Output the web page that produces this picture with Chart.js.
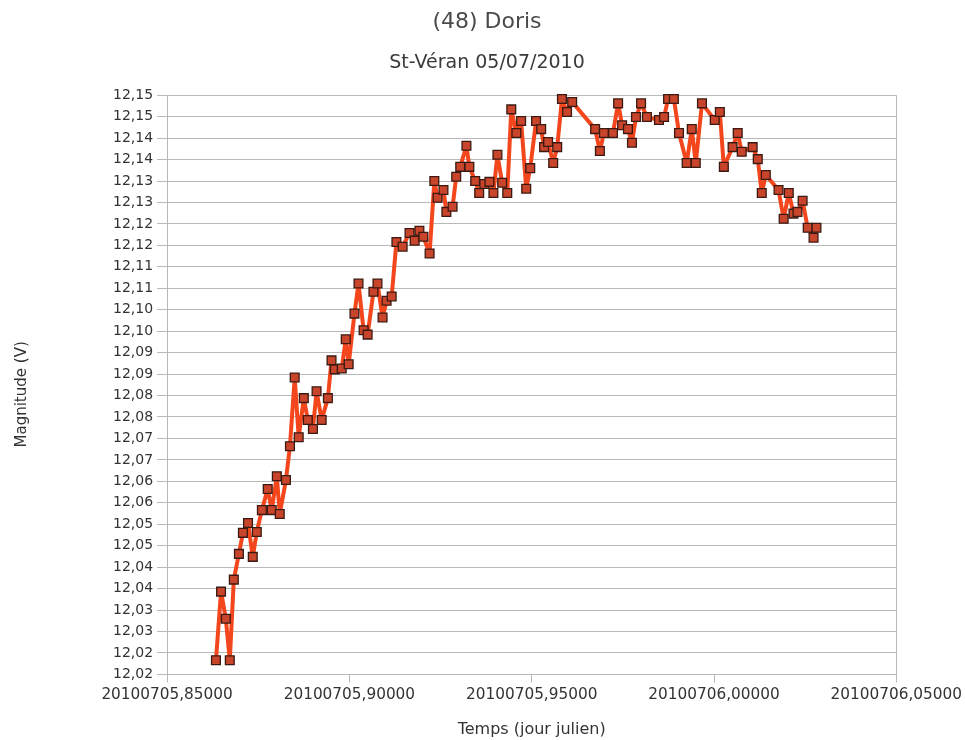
<!DOCTYPE html>
<html lang="fr">
<head>
<meta charset="utf-8">
<title>(48) Doris</title>
<script src="https://cdn.jsdelivr.net/npm/chart.js@4/dist/chart.umd.min.js"></script>
<style>
  html, body { margin: 0; padding: 0; background: #fff; }
  #wrap { width: 965px; height: 740px; }
</style>
</head>
<body>
<div id="wrap"><canvas id="doris" width="965" height="740"></canvas></div>
<script>
// Temps (jour julien) de chaque mesure
const temps = [
  20100705.8634, 20100705.8648, 20100705.8661, 20100705.8672, 20100705.8683,
  20100705.8697, 20100705.8708, 20100705.8722, 20100705.8735, 20100705.8746,
  20100705.8760, 20100705.8776, 20100705.8787, 20100705.8801, 20100705.8809,
  20100705.8826, 20100705.8837, 20100705.8850, 20100705.8861, 20100705.8875,
  20100705.8886, 20100705.8900, 20100705.8910, 20100705.8924, 20100705.8941,
  20100705.8951, 20100705.8960, 20100705.8979, 20100705.8990, 20100705.8998,
  20100705.9014, 20100705.9025, 20100705.9039, 20100705.9050, 20100705.9066,
  20100705.9077, 20100705.9091, 20100705.9102, 20100705.9116, 20100705.9129,
  20100705.9146, 20100705.9165, 20100705.9179, 20100705.9192, 20100705.9203,
  20100705.9220, 20100705.9233, 20100705.9242, 20100705.9258, 20100705.9266,
  20100705.9283, 20100705.9293, 20100705.9304, 20100705.9321, 20100705.9329,
  20100705.9345, 20100705.9356, 20100705.9370, 20100705.9384, 20100705.9395,
  20100705.9406, 20100705.9419, 20100705.9433, 20100705.9444, 20100705.9458,
  20100705.9471, 20100705.9485, 20100705.9496, 20100705.9512, 20100705.9526,
  20100705.9534, 20100705.9545, 20100705.9559, 20100705.9570, 20100705.9583,
  20100705.9597, 20100705.9611, 20100705.9674, 20100705.9687, 20100705.9698,
  20100705.9723, 20100705.9737, 20100705.9748, 20100705.9764, 20100705.9775,
  20100705.9786, 20100705.9800, 20100705.9816, 20100705.9849, 20100705.9863,
  20100705.9874, 20100705.9890, 20100705.9904, 20100705.9925, 20100705.9939,
  20100705.9950, 20100705.9967, 20100706.0002, 20100706.0016, 20100706.0027,
  20100706.0051, 20100706.0065, 20100706.0076, 20100706.0106, 20100706.0120,
  20100706.0131, 20100706.0142, 20100706.0177, 20100706.0191, 20100706.0205,
  20100706.0218, 20100706.0229, 20100706.0243, 20100706.0257, 20100706.0273,
  20100706.0281
];

// Magnitude V mesuree
const magnitudes = [
  12.0208, 12.0368, 12.0305, 12.0208, 12.0396,
  12.0456, 12.0505, 12.0528, 12.0449, 12.0507,
  12.0558, 12.0607, 12.0558, 12.0637, 12.0549,
  12.0628, 12.0707, 12.0867, 12.0728, 12.0819,
  12.0768, 12.0747, 12.0835, 12.0768, 12.0819,
  12.0907, 12.0886, 12.0888, 12.0956, 12.0898,
  12.1016, 12.1086, 12.0977, 12.0967, 12.1067,
  12.1086, 12.1007, 12.1046, 12.1056, 12.1183,
  12.1172, 12.1204, 12.1186, 12.1209, 12.1195,
  12.1156, 12.1325, 12.1286, 12.1304, 12.1253,
  12.1265, 12.1335, 12.1358, 12.1407, 12.1358,
  12.1325, 12.1297, 12.1318, 12.1323, 12.1297,
  12.1386, 12.1321, 12.1297, 12.1492, 12.1437,
  12.1465, 12.1307, 12.1355, 12.1465, 12.1446,
  12.1404, 12.1416, 12.1367, 12.1404, 12.1516,
  12.1486, 12.1509, 12.1446, 12.1395, 12.1437,
  12.1437, 12.1506, 12.1455, 12.1446, 12.1414,
  12.1474, 12.1506, 12.1474, 12.1467, 12.1474,
  12.1516, 12.1516, 12.1437, 12.1367, 12.1446,
  12.1367, 12.1506, 12.1467, 12.1486, 12.1358,
  12.1404, 12.1437, 12.1393, 12.1404, 12.1376,
  12.1297, 12.1339, 12.1304, 12.1237, 12.1297,
  12.1249, 12.1253, 12.1279, 12.1216, 12.1193,
  12.1216
];

// Graduations des axes
const xTickValues = [20100705.85, 20100705.90, 20100705.95, 20100706.00, 20100706.05];
const xTickLabels = ["20100705,85000", "20100705,90000", "20100705,95000", "20100706,00000", "20100706,05000"];

const yTickValues = [
  12.0175, 12.0225, 12.0275, 12.0325, 12.0375, 12.0425, 12.0475,
  12.0525, 12.0575, 12.0625, 12.0675, 12.0725, 12.0775, 12.0825,
  12.0875, 12.0925, 12.0975, 12.1025, 12.1075, 12.1125, 12.1175,
  12.1225, 12.1275, 12.1325, 12.1375, 12.1425, 12.1475, 12.1525
];
const yTickLabels = [
  "12,02", "12,02", "12,03", "12,03", "12,04", "12,04", "12,05",
  "12,05", "12,06", "12,06", "12,07", "12,07", "12,08", "12,08",
  "12,09", "12,09", "12,10", "12,10", "12,11", "12,11", "12,12",
  "12,12", "12,13", "12,13", "12,14", "12,14", "12,15", "12,15"
];

const FONT = "'DejaVu Sans', 'Liberation Sans', Arial, sans-serif";
const GRID = "#b8b8b8";

const points = temps.map((t, i) => ({ x: t, y: magnitudes[i] }));

new Chart(document.getElementById("doris"), {
  type: "line",
  data: {
    datasets: [
      {
        label: "Doris",
        data: points,
        borderColor: "#f4461c",
        borderWidth: 4,
        borderJoinStyle: "round",
        borderCapStyle: "round",
        tension: 0,
        pointStyle: "rect",
        pointRadius: 6.2,
        pointBackgroundColor: "#c8442a",
        pointBorderColor: "#3a1a12",
        pointBorderWidth: 1.3,
        clip: false,
      },
    ],
  },
  options: {
    responsive: false,
    animation: false,
    devicePixelRatio: 1,
    layout: { padding: { left: 9, right: 0, top: 0, bottom: 0 } },
    plugins: {
      legend: { display: false },
      tooltip: { enabled: false },
      title: {
        display: true,
        text: "(48) Doris",
        color: "#4a4a4a",
        font: { family: FONT, size: 22, weight: "normal" },
        padding: { top: 9, bottom: 16 },
      },
      subtitle: {
        display: true,
        text: "St-Véran 05/07/2010",
        color: "#3a3a3a",
        font: { family: FONT, size: 19, weight: "normal" },
        padding: { top: 0, bottom: 21 },
      },
    },
    scales: {
      x: {
        type: "linear",
        min: xTickValues[0],
        max: xTickValues[xTickValues.length - 1],
        afterBuildTicks(axis) {
          axis.ticks = xTickValues.map((v) => ({ value: v }));
        },
        ticks: {
          color: "#333",
          font: { family: FONT, size: 15.3 },
          padding: 3,
          maxRotation: 0,
          autoSkip: false,
          callback(value, index) {
            return xTickLabels[index];
          },
        },
        grid: {
          // only the right edge of the frame, plus tick marks under each label
          color(ctx) {
            return ctx.index === xTickValues.length - 1 ? GRID : "rgba(0,0,0,0)";
          },
          tickColor: GRID,
          tickLength: 8,
        },
        border: { display: true, color: GRID },
        title: {
          display: true,
          text: "Temps (jour julien)",
          color: "#333",
          font: { family: FONT, size: 16 },
          padding: { top: 13, bottom: 1 },
        },
      },
      y: {
        min: yTickValues[0],
        max: yTickValues[yTickValues.length - 1],
        afterBuildTicks(axis) {
          axis.ticks = yTickValues.map((v) => ({ value: v }));
        },
        ticks: {
          color: "#333",
          font: { family: FONT, size: 14 },
          padding: 4,
          autoSkip: false,
          callback(value, index) {
            return yTickLabels[index];
          },
        },
        grid: { color: GRID, tickColor: GRID, tickLength: 10 },
        border: { display: true, color: GRID },
        title: {
          display: true,
          // trailing spaces push the rotated caption slightly lower
          text: "Magnitude (V)    ",
          color: "#333",
          font: { family: FONT, size: 15 },
          padding: { top: 4, bottom: 78 },
        },
      },
    },
  },
});
</script>
</body>
</html>
